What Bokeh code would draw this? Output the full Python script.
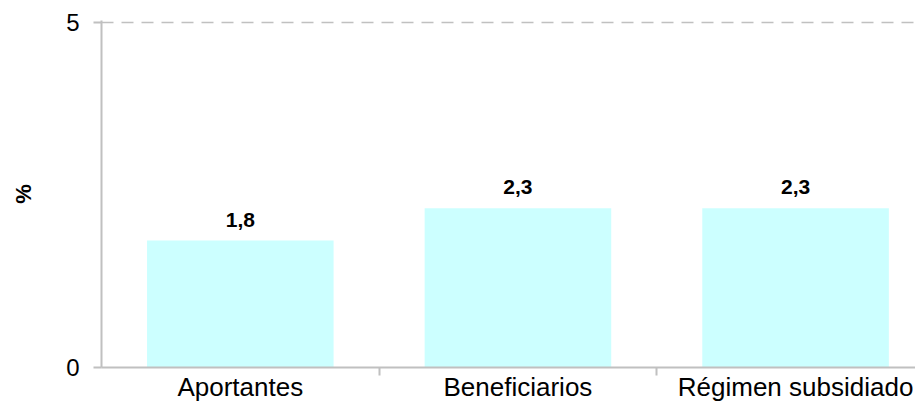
from bokeh.plotting import figure
from bokeh.models import ColumnDataSource, FixedTicker, Range1d
from bokeh.core.properties import value
from bokeh.embed import file_html
from bokeh.resources import INLINE

categories = ["Aportantes", "Beneficiarios", "Régimen subsidiado"]
values = [1.84, 2.31, 2.31]
value_labels = ["1,8", "2,3", "2,3"]
y_ticks = [0, 5]

xs = [i + 0.5 for i in range(len(categories))]
src = ColumnDataSource(dict(x=xs, top=values, lab=value_labels))

FONT = "Liberation Sans"

p = figure(width=915, height=404, output_backend="svg", toolbar_location=None,
           x_range=Range1d(0, 2.932), y_range=Range1d(0, 5.03))
p.min_border_left = 101
p.min_border_right = 0
p.min_border_top = 20
p.min_border_bottom = 36
p.outline_line_color = None
p.background_fill_color = "white"
p.border_fill_color = "white"

p.vbar(x="x", top="top", bottom=0, width=0.672, source=src,
       fill_color="#CCFFFF", line_color=None)
p.text(x="x", y="top", text="lab", source=src, y_offset=-21,
       text_align="center", text_baseline="alphabetic",
       text_font=value(FONT), text_font_size="21px", text_font_style="bold",
       text_color="black")

# x axis: labels at category centres, separator ticks between categories
xa = p.xaxis[0]
xa.ticker = FixedTicker(ticks=xs, minor_ticks=[1, 2])
xa.major_label_overrides = {x: c for x, c in zip(xs, categories)}
xa.major_tick_out = 0
xa.major_tick_in = 0
xa.minor_tick_out = 8
xa.minor_tick_in = 0
xa.minor_tick_line_color = "#c0c0c0"
xa.minor_tick_line_width = 2
xa.axis_line_color = "#c0c0c0"
xa.axis_line_width = 2
xa.major_label_text_font = FONT
xa.major_label_text_font_size = "26px"
xa.major_label_text_color = "black"
xa.major_label_standoff = -4

# y axis
ya = p.yaxis[0]
ya.ticker = FixedTicker(ticks=y_ticks)
ya.minor_tick_line_color = None
ya.major_tick_out = 8
ya.major_tick_in = 0
ya.major_tick_line_color = "#c0c0c0"
ya.major_tick_line_width = 2
ya.axis_line_color = "#c0c0c0"
ya.axis_line_width = 2
ya.major_label_text_font = FONT
ya.major_label_text_font_size = "24px"
ya.major_label_text_color = "black"
ya.major_label_standoff = 14
ya.axis_label = "%"
ya.axis_label_text_font = FONT
ya.axis_label_text_font_size = "22px"
ya.axis_label_text_font_style = "bold"
ya.axis_label_text_color = "black"
ya.axis_label_standoff = 27

p.xgrid.visible = False
p.ygrid.ticker = FixedTicker(ticks=[5])
p.ygrid.grid_line_color = "#c0c0c0"
p.ygrid.grid_line_dash = "12 8"
p.ygrid.grid_line_width = 1.5

open("out.html", "w").write(file_html(p, INLINE))
